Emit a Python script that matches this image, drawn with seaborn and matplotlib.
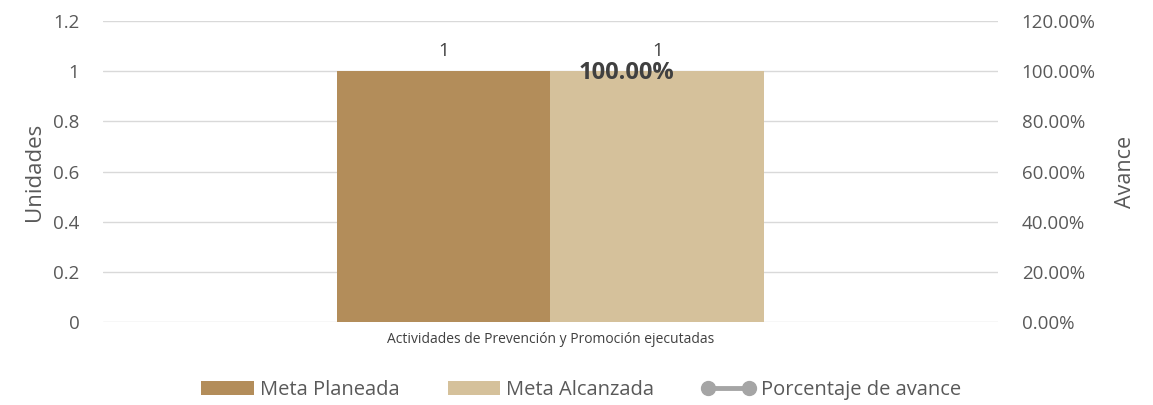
import pandas as pd
import numpy as np
import matplotlib
matplotlib.use("Agg")
import matplotlib.pyplot as plt
import seaborn as sns
from matplotlib.patches import Patch
from matplotlib.lines import Line2D
from matplotlib.ticker import FuncFormatter

# ---------- data ----------
categories = ["Actividades de Prevención y Promoción ejecutadas"]
meta_planeada = [1]
meta_alcanzada = [1]
porcentaje_avance = [1.0]
series_names = ["Meta Planeada", "Meta Alcanzada"]

colors = ["#B38D5A", "#D5C19B"]
line_color = "#A5A5A5"
text_color = "#595959"

df = pd.DataFrame({
    "categoria": categories * 2,
    "serie": [series_names[0]] * len(categories) + [series_names[1]] * len(categories),
    "valor": meta_planeada + meta_alcanzada,
})

sns.set_style("white")
plt.rcParams["font.family"] = ["Open Sans", "DejaVu Sans"]

fig = plt.figure(figsize=(11.53, 4.05), dpi=100)
ax = fig.add_axes([0.0893, 0.205, 0.7763, 0.743])

sns.barplot(data=df, x="categoria", y="valor", hue="serie", palette=colors,
            width=0.477, gap=0, saturation=1, linewidth=0, ax=ax, legend=False)

ax.set_xlim(-0.5, 0.5)
ax.set_ylim(0, 1.2)
ax.set_yticks(np.arange(0, 1.21, 0.2))
ax.yaxis.set_major_formatter(FuncFormatter(lambda v, p: f"{v:g}"))
ax.grid(axis="y", color="#D9D9D9", linewidth=1)
ax.set_axisbelow(True)
for s in ax.spines.values():
    s.set_visible(False)
ax.tick_params(axis="y", length=0, labelsize=13.5, labelcolor=text_color, pad=17)
ax.tick_params(axis="x", length=0, labelsize=10, labelcolor="#404040", pad=7)
ax.set_xlabel("")
ax.set_ylabel("Unidades", fontsize=16, color=text_color, labelpad=6)

# bar value labels
for cont in ax.containers:
    ax.bar_label(cont, labels=[f"{v:g}" for v in cont.datavalues],
                 padding=8, fontsize=13.5, color="#404040")

# secondary axis: percentage
ax2 = ax.twinx()
ax2.set_ylim(0, 1.2)
ax2.set_yticks(np.arange(0, 1.21, 0.2))
ax2.yaxis.set_major_formatter(FuncFormatter(lambda v, p: f"{v * 100:.2f}%"))
for s in ax2.spines.values():
    s.set_visible(False)
ax2.tick_params(axis="y", length=0, labelsize=13.5, labelcolor=text_color, pad=17)
ax2.set_ylabel("Avance", fontsize=15.5, color=text_color, labelpad=14)
ax2.plot(range(len(categories)), porcentaje_avance, color=line_color, linewidth=3,
         marker="o", markersize=0)
for i, v in enumerate(porcentaje_avance):
    ax2.annotate(f"{v * 100:.2f}%", (i, v), xytext=(55, -1), textcoords="offset points",
                 ha="center", va="center", fontsize=17, fontweight="bold", color="#404040")

# legend
handles = [
    Patch(facecolor=colors[0], edgecolor="none"),
    Patch(facecolor=colors[1], edgecolor="none"),
    Line2D([0], [0], color=line_color, linewidth=3.5, marker="o", markersize=10),
]
fig.legend(handles, series_names + ["Porcentaje de avance"], loc="center",
           bbox_to_anchor=(0.504, 0.037), ncol=3, frameon=False, fontsize=14.5,
           labelcolor=text_color, handlelength=2.6, handleheight=0.75, numpoints=2,
           columnspacing=2.4, handletextpad=0.3)

fig.savefig("out.png", dpi=100)
